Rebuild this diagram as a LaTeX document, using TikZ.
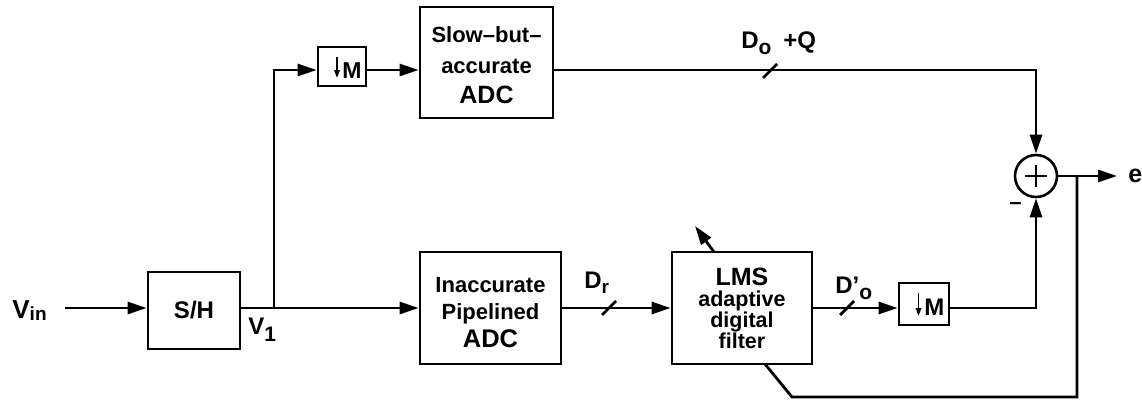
\documentclass[tikz,border=0pt]{standalone}
\usepackage{fontspec}
\setmainfont{Liberation Sans}
\usetikzlibrary{arrows.meta}
\newcommand{\fs}[1]{\fontsize{#1}{#1}\selectfont}
\begin{document}
\begin{tikzpicture}[x=1pt,y=-1pt, line width=2.8pt,
  >={Triangle[length=19pt,width=12pt]},
  box/.style={draw, line width=2.8pt, inner sep=0pt, align=center},
  lbl/.style={anchor=base west, inner sep=0pt, font=\bfseries}]
\useasboundingbox (0,0) rectangle (1142,400);

% blocks
\node[box, minimum width=92pt, minimum height=77pt, font=\bfseries\fs{24}] (sh) at (194,310.5) {\raisebox{-4pt}{S/H}};
\node[box, minimum width=48pt, minimum height=39pt] (m1) at (342,66.5) {};
\node[box, minimum width=133pt, minimum height=111pt, font=\bfseries\fontsize{22}{30.5}\selectfont] (slow) at (486.5,62.5)
  {\rule{0pt}{22pt}Slow--but--\\ accurate\\ {\fs{25}ADC}};
\node[box, minimum width=141pt, minimum height=112pt, font=\bfseries\fontsize{22}{27.5}\selectfont] (inacc) at (490.5,308)
  {\rule{0pt}{24pt}Inaccurate\\ Pipelined\\ {\fs{25.5}ADC}};
\node[box, minimum width=140pt, minimum height=112pt, font=\bfseries\fontsize{21.5}{21}\selectfont] (lms) at (742,308)
  {{\fs{25}LMS}\\ adaptive\\ digital\\ filter};
\node[box, minimum width=50pt, minimum height=42pt] (m2) at (924,304) {};
\node[draw, circle, line width=2.6pt, minimum size=42pt, inner sep=0pt] (sum) at (1036,176) {};

% down-sampling symbols
\node[lbl] (m1t) at (341,78) {\fs{23}M};
\node[lbl] (m2t) at (923,315) {\fs{24}M};
\draw[line width=1.8pt, -{Triangle[length=8pt,width=5.5pt]}] (337,57) -- (337,78);
\draw[line width=1.8pt, -{Triangle[length=8pt,width=5.5pt]}] (918.5,293) -- (918.5,316);

% plus sign
\draw[line width=2.4pt] (sum.center) ++(-11,0) -- ++(22,0);
\draw[line width=2.4pt] (sum.center) ++(0,-11) -- ++(0,22);

% coordinates
\coordinate (vin) at (65,308);
\coordinate (j) at (274,308);
\coordinate (t) at (274,70);
\coordinate (br) at (1077,176);
\coordinate (eo) at (1117,176);
\coordinate (fb1) at (1077,397);
\coordinate (fb2) at (792,397);
\coordinate (lmsb) at (765,364);
\coordinate (lmst) at (714,252);
\coordinate (lmsa) at (695,226);

% connectors
\draw[->] (vin) -- (sh.west |- vin);
\draw (sh.east |- vin) -- (j);
\draw[->] (j) -- (inacc.west |- j);
\draw[->] (j) -- (t) -- (t -| m1.west);
\draw[->] (m1.east |- t) -- (slow.west |- t);
\draw[->] (slow.east |- t) -| (sum.north);
\draw[->] (inacc.east |- j) -- (lms.west |- j);
\draw[->] (lms.east |- j) -- (m2.west |- j);
\draw[->] (m2.east |- j) -| (sum.south);
\draw[->] (sum.east) -- (eo);
\draw (br) -- (fb1) -- (fb2) -- (lmsb);
\draw[->] (lmst) -- (lmsa);

% bus slashes
\draw (602,315) -- (616,301);
\draw (763,78) -- (777,64);
\draw (840,315) -- (854,301);

% labels
\node[lbl] (lvin) at (11,318) {\fs{26}V\raisebox{-2pt}{\fs{19}in}};
\node[lbl] (lv1) at (247,334) {\fs{24}V\raisebox{-7pt}{\fs{21}1}};
\node[lbl] (ldr) at (583,288) {\fs{24}D\raisebox{-5pt}{\fs{19}r}};
\node[lbl] (ldo) at (740,48) {\fs{24}D\raisebox{-6pt}{\fs{21}o}};
\node[lbl] (lq) at (782,48) {\fs{24}+Q};
\node[lbl] (ldo2) at (834,293) {\fs{24}D’\raisebox{-6pt}{\fs{21}o}};
\node[lbl] (le) at (1127,182) {\fs{25}e};
\node[lbl] (lm) at (1008,209) {\fs{22}--};
\end{tikzpicture}
\end{document}
